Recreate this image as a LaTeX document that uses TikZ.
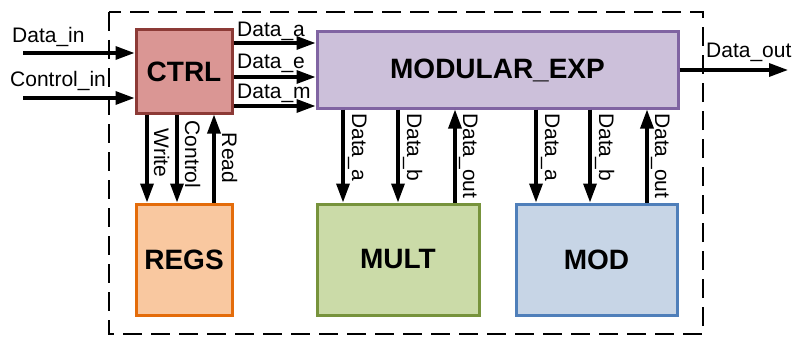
\documentclass[tikz,border=0pt]{standalone}
\usepackage{fontspec}
\setmainfont{Liberation Sans}
\usetikzlibrary{arrows.meta}
\definecolor{ctrlfill}{HTML}{DA9694}
\definecolor{ctrldraw}{HTML}{8C3A36}
\definecolor{modexpfill}{HTML}{CCC0DA}
\definecolor{modexpdraw}{HTML}{8064A2}
\definecolor{regsfill}{HTML}{F9C8A0}
\definecolor{regsdraw}{HTML}{E46C0A}
\definecolor{multfill}{HTML}{CBDBA8}
\definecolor{multdraw}{HTML}{77933C}
\definecolor{modfill}{HTML}{C7D5E6}
\definecolor{moddraw}{HTML}{4F7FBA}
\tikzset{
  blk/.style={rectangle, line width=3pt, inner sep=0pt, font=\fontsize{28}{32}\selectfont\bfseries},
  sig/.style={line width=3.3pt, -{Triangle[length=19pt,width=13pt]}},
  lbl/.style={font=\fontsize{21}{24}\selectfont, inner sep=0pt},
  vlbl/.style={lbl, rotate=-90},
}
\begin{document}
\begin{tikzpicture}[x=1pt,y=-1pt]
\useasboundingbox (0,0) rectangle (793,337);
% dashed frame
\draw[line width=2.5pt, dash pattern=on 19pt off 9pt] (109,12) rectangle (703,334);
% blocks
\node[blk, fill=ctrlfill, draw=ctrldraw, minimum width=96pt, minimum height=83pt] (ctrl) at (184,71.5) {CTRL};
\node[blk, fill=modexpfill, draw=modexpdraw, minimum width=361pt, minimum height=76pt] (mexp) at (497.5,70) {MODULAR\_EXP};
\node[blk, fill=regsfill, draw=regsdraw, minimum width=96pt, minimum height=111pt] (regs) at (184,259.5) {REGS};
\node[blk, fill=multfill, draw=multdraw, minimum width=162pt, minimum height=111pt] (mult) at (398,259.5) {MULT};
\node[blk, fill=modfill, draw=moddraw, minimum width=161pt, minimum height=111pt] (mod) at (596.5,259.5) {MOD};
% external coordinates
\coordinate (din) at (23,53);
\coordinate (cin) at (23,98);
\coordinate (dout) at (788,70);
% inputs
\draw[sig] (din) -- (din -| ctrl.west);
\draw[sig] (cin) -- (cin -| ctrl.west);
\node[lbl, anchor=base west] (ldin) at (12,43) {Data\_in};
\node[lbl, anchor=base west] (lcin) at (10,87) {Control\_in};
% output
\draw[sig] (mexp.east) -- (dout);
\node[lbl, anchor=base west] (ldout) at (706,58) {Data\_out};
% CTRL -> MODULAR_EXP
\draw[sig] (ctrl.east |- 0,43) coordinate (da) -- (mexp.west |- 0,43);
\draw[sig] (ctrl.east |- 0,77) coordinate (de) -- (mexp.west |- 0,77);
\draw[sig] (ctrl.east |- 0,106) coordinate (dm) -- (mexp.west |- 0,106);
\node[lbl, anchor=base west] (lda) at (237,37) {Data\_a};
\node[lbl, anchor=base west] (lde) at (237,69) {Data\_e};
\node[lbl, anchor=base west] (ldm) at (237,99) {Data\_m};
% CTRL <-> REGS
\draw[sig] (ctrl.south -| 147,0) -- (regs.north -| 147,0);
\draw[sig] (ctrl.south -| 177,0) -- (regs.north -| 177,0);
\draw[sig] (regs.north -| 214,0) -- (ctrl.south -| 214,0);
\node[vlbl, anchor=base] (lw) at (154,153) {Write};
\node[vlbl, anchor=base] (lc) at (185,154.5) {Control};
\node[vlbl, anchor=base] (lr) at (222,158) {Read};
% MODULAR_EXP <-> MULT
\draw[sig] (mexp.south -| 343,0) -- (mult.north -| 343,0);
\draw[sig] (mexp.south -| 398,0) -- (mult.north -| 398,0);
\draw[sig] (mult.north -| 455,0) -- (mexp.south -| 455,0);
\node[vlbl, anchor=base west] (lma) at (352,113) {Data\_a};
\node[vlbl, anchor=base west] (lmb) at (407,113) {Data\_b};
\node[vlbl, anchor=base west] (lmo) at (463,113) {Data\_out};
% MODULAR_EXP <-> MOD
\draw[sig] (mexp.south -| 536,0) -- (mod.north -| 536,0);
\draw[sig] (mexp.south -| 590,0) -- (mod.north -| 590,0);
\draw[sig] (mod.north -| 647,0) -- (mexp.south -| 647,0);
\node[vlbl, anchor=base west] (loa) at (545,113) {Data\_a};
\node[vlbl, anchor=base west] (lob) at (599,113) {Data\_b};
\node[vlbl, anchor=base west] (loo) at (655,113) {Data\_out};
\end{tikzpicture}
\end{document}
